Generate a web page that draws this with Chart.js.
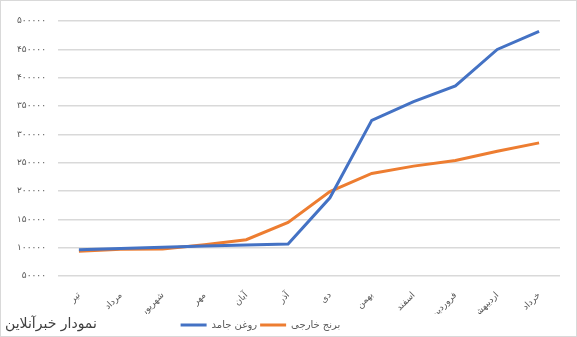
<!DOCTYPE html>
<html>
<head>
<meta charset="utf-8">
<script src="https://cdn.jsdelivr.net/npm/chart.js@4.4.1/dist/chart.umd.min.js"></script>
<style>
  html, body { margin: 0; padding: 0; background: #fff; }
  #wrap { position: relative; width: 577px; height: 337px; }
</style>
</head>
<body>
<div id="wrap"><canvas id="chart"></canvas></div>
<script>
const months = ["تیر", "مرداد", "شهریور", "مهر", "آبان", "آذر", "دی", "بهمن", "اسفند", "فروردین", "اردیبهشت", "خرداد"];
const solidOil = [96500, 98600, 100800, 103000, 104700, 106500, 188000, 324600, 357900, 385400, 449800, 481900];
const foreignRice = [93700, 97000, 97700, 105300, 114000, 144600, 199000, 231000, 243900, 253900, 270200, 284900];
const seriesNames = ["روغن جامد", "برنج خارجی"];
const yMin = 50000, yMax = 500000, yStep = 50000;
const watermark = "نمودار خبرآنلاین";

const faDigits = "۰۱۲۳۴۵۶۷۸۹";
function toPersian(n) {
  return String(n).replace(/[0-9]/g, d => faDigits[d]);
}

const font = "'DejaVu Sans', sans-serif";

// site name bottom left, thin frame, and legend nudged like the original
const extrasPlugin = {
  id: 'extras',
  afterLayout(chart) {
    const lg = chart.legend;
    lg.left -= 24;
    lg.right -= 24;
    lg.top += 3;
    lg.bottom += 3;
  },
  afterDraw(chart) {
    const ctx = chart.ctx;
    ctx.save();
    ctx.strokeStyle = '#d9d9d9';
    ctx.lineWidth = 1;
    ctx.strokeRect(0.5, 0.5, chart.width - 1, chart.height - 1);
    ctx.font = "14px " + font;
    ctx.fillStyle = '#404040';
    ctx.textAlign = 'left';
    ctx.textBaseline = 'middle';
    ctx.fillText(watermark, 5, 324);
    ctx.restore();
  }
};

new Chart(document.getElementById('chart'), {
  type: 'line',
  data: {
    labels: months,
    datasets: [{
      label: seriesNames[0],
      data: solidOil,
      borderColor: '#4472C4',
      backgroundColor: '#4472C4',
      borderWidth: 3,
      pointRadius: 0,
      pointStyle: 'line',
      tension: 0
    }, {
      label: seriesNames[1],
      data: foreignRice,
      borderColor: '#ED7D31',
      backgroundColor: '#ED7D31',
      borderWidth: 3,
      pointRadius: 0,
      pointStyle: 'line',
      tension: 0
    }]
  },
  options: {
    responsive: true,
    maintainAspectRatio: false,
    animation: false,
    layout: { padding: { left: 9, right: 17, top: 21, bottom: 0 } },
    plugins: {
      tooltip: { enabled: false },
      legend: {
        position: 'bottom',
        labels: {
          usePointStyle: true,
          pointStyleWidth: 26,
          boxHeight: 10,
          padding: 3,
          color: '#595959',
          font: { family: font, size: 10 }
        }
      }
    },
    scales: {
      x: {
        offset: true,
        grid: { display: false },
        border: { display: false },
        ticks: {
          minRotation: 45,
          maxRotation: 45,
          padding: 6,
          color: '#595959',
          font: { family: font, size: 9 }
        },
        afterFit(scale) { scale.height = 38; }
      },
      y: {
        min: yMin,
        max: yMax,
        grid: { color: '#d9d9d9', lineWidth: 1.5, drawTicks: false },
        border: { display: false },
        ticks: {
          stepSize: yStep,
          padding: 12,
          color: '#595959',
          font: { family: font, size: 9 },
          callback: v => toPersian(v)
        },
        afterFit(scale) { scale.width = 49; }
      }
    }
  },
  plugins: [extrasPlugin]
});
</script>
</body>
</html>
